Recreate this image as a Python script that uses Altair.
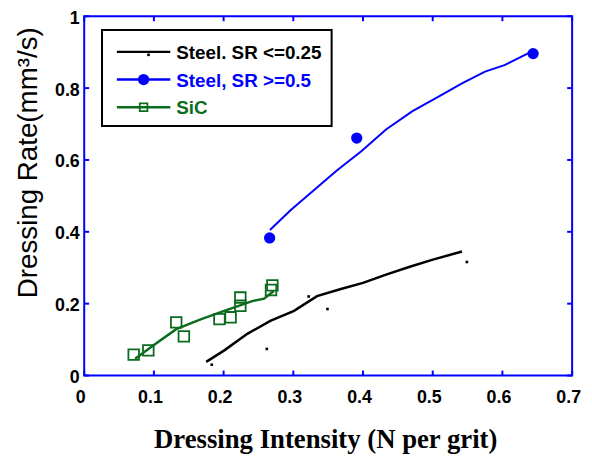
import altair as alt
import pandas as pd

# ---- data ----
blue_pts_x = [0.266, 0.391, 0.644]
blue_pts_y = [0.383, 0.661, 0.896]
blue_fit_x = [0.2665, 0.296, 0.329, 0.362, 0.398, 0.433, 0.471, 0.509, 0.542, 0.575, 0.603, 0.641]
blue_fit_y = [0.405, 0.460, 0.515, 0.570, 0.625, 0.685, 0.736, 0.777, 0.813, 0.846, 0.864, 0.901]

black_pts_x = [0.183, 0.262, 0.322, 0.349, 0.549]
black_pts_y = [0.030, 0.074, 0.220, 0.185, 0.316]
black_fit_x = [0.175, 0.201, 0.234, 0.267, 0.301, 0.334, 0.367, 0.400, 0.433, 0.466, 0.499, 0.542]
black_fit_y = [0.038, 0.070, 0.116, 0.152, 0.180, 0.221, 0.240, 0.258, 0.281, 0.302, 0.322, 0.345]

sic_pts_x = [0.071, 0.092, 0.132, 0.143, 0.194, 0.210, 0.224, 0.224, 0.270, 0.268]
sic_pts_y = [0.058, 0.070, 0.148, 0.109, 0.157, 0.162, 0.217, 0.194, 0.251, 0.238]
sic_fit_x = [0.073, 0.102, 0.132, 0.168, 0.201, 0.241, 0.258, 0.272]
sic_fit_y = [0.047, 0.088, 0.129, 0.157, 0.180, 0.207, 0.214, 0.235]

x_ticks = [0, 0.1, 0.2, 0.3, 0.4, 0.5, 0.6, 0.7]
y_ticks = [0, 0.2, 0.4, 0.6, 0.8, 1.0]

legend_labels = ["Steel. SR <=0.25", "Steel, SR >=0.5", "SiC"]

BLUE = "#0000ff"
GREEN = "#0b6b1e"
BLACK = "#000000"

W, H = 493, 363
xs = alt.Scale(domain=[0, 0.7], nice=False, zero=False)
ys = alt.Scale(domain=[0, 1], nice=False, zero=False)

xaxis = alt.Axis(values=x_ticks, format=".1~f", domain=False, ticks=False, grid=False,
                 labelFont="Liberation Sans", labelFontWeight="bold", labelFontSize=18,
                 labelColor="black", labelPadding=13, labelOffset=-4, labelFlush=False,
                 labelOverlap=False, title=None)
yaxis = alt.Axis(values=y_ticks, format=".1~f", domain=False, ticks=False, grid=False,
                 labelFont="Liberation Sans", labelFontWeight="bold", labelFontSize=18,
                 labelColor="black", labelPadding=5, labelOffset=2, labelFlush=False,
                 labelOverlap=False, title=None)


def df(x, y):
    return pd.DataFrame({"x": x, "y": y})


def enc(ch):
    return ch.encode(x=alt.X("x:Q", scale=xs, axis=xaxis), y=alt.Y("y:Q", scale=ys, axis=yaxis))


one = pd.DataFrame({"a": [0]})

layers = []
# fitted lines
layers.append(enc(alt.Chart(df(black_fit_x, black_fit_y)).mark_line(color=BLACK, strokeWidth=2.5)))
layers.append(enc(alt.Chart(df(blue_fit_x, blue_fit_y)).mark_line(color=BLUE, strokeWidth=2)))
layers.append(enc(alt.Chart(df(sic_fit_x, sic_fit_y)).mark_line(color=GREEN, strokeWidth=2.5)))
# points
layers.append(enc(alt.Chart(df(black_pts_x, black_pts_y)).mark_point(shape="square", filled=True, color=BLACK, size=7, opacity=1)))
layers.append(enc(alt.Chart(df(blue_pts_x, blue_pts_y)).mark_point(shape="circle", filled=True, color=BLUE, size=130, opacity=1)))
layers.append(enc(alt.Chart(df(sic_pts_x, sic_pts_y)).mark_point(shape="square", filled=False, color=GREEN, size=115, strokeWidth=1.8, opacity=1)))

# inward ticks
xt = pd.DataFrame({"v": x_ticks})
yt = pd.DataFrame({"v": y_ticks})
tk = dict(color=BLUE, strokeWidth=2)
layers.append(alt.Chart(xt).mark_rule(**tk).encode(x=alt.X("v:Q", scale=xs, axis=xaxis), y=alt.value(H), y2=alt.value(H - 5)))
layers.append(alt.Chart(xt).mark_rule(**tk).encode(x=alt.X("v:Q", scale=xs, axis=xaxis), y=alt.value(0), y2=alt.value(5)))
layers.append(alt.Chart(yt).mark_rule(**tk).encode(y=alt.Y("v:Q", scale=ys, axis=yaxis), x=alt.value(0), x2=alt.value(5)))
layers.append(alt.Chart(yt).mark_rule(**tk).encode(y=alt.Y("v:Q", scale=ys, axis=yaxis), x=alt.value(W), x2=alt.value(W - 5)))

# legend
layers.append(alt.Chart(one).mark_rect(fill="white", stroke="black", strokeWidth=2).encode(
    x=alt.value(18), x2=alt.value(250), y=alt.value(14), y2=alt.value(111)))
rows = [36, 64, 92]
cols = [BLACK, BLUE, GREEN]
for i, (lab, c, ry) in enumerate(zip(legend_labels, cols, rows)):
    layers.append(alt.Chart(one).mark_rule(color=c, strokeWidth=2.5).encode(
        x=alt.value(33), x2=alt.value(87), y=alt.value(ry)))
    layers.append(alt.Chart(one).mark_text(text=lab, color=c, font="Liberation Sans", fontWeight="bold",
                                           fontSize=19, align="left", baseline="middle").encode(
        x=alt.value(93), y=alt.value(ry + 1)))
layers.append(alt.Chart(one).mark_point(shape="square", filled=True, color=BLACK, size=7, opacity=1).encode(
    x=alt.value(65), y=alt.value(39)))
layers.append(alt.Chart(one).mark_point(shape="circle", filled=True, color=BLUE, size=130, opacity=1).encode(
    x=alt.value(60), y=alt.value(64)))
layers.append(alt.Chart(one).mark_point(shape="square", filled=False, color=GREEN, size=60, strokeWidth=1.8, opacity=1).encode(
    x=alt.value(60), y=alt.value(92)))

# axis titles
layers.append(alt.Chart(one).mark_text(text="Dressing Rate(mm³/s)", font="Liberation Sans", fontSize=28,
                                       angle=270, align="center", baseline="alphabetic", color="black").encode(
    x=alt.value(-48), y=alt.value(148)))
layers.append(alt.Chart(one).mark_text(text="Dressing Intensity (N per grit)", font="Liberation Serif",
                                       fontWeight="bold", fontSize=27, align="center", baseline="alphabetic",
                                       color="black").encode(
    x=alt.value(244), y=alt.value(436)))

chart = alt.layer(*layers).properties(
    width=W, height=H,
    autosize=alt.AutoSizeParams(type="none"),
    padding={"left": 77, "top": 6, "right": 12, "bottom": 80},
    background="white",
).configure_view(stroke=BLUE, strokeWidth=2)

chart.save("out.html", embed_options={"renderer": "svg", "actions": False})
